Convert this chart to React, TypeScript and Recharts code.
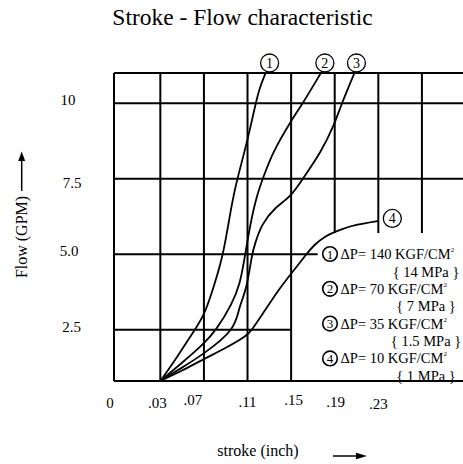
import React from 'react';
import { LineChart, Line, XAxis, YAxis, ReferenceLine } from 'recharts';

// stroke (inch) / flow (GPM), one pair of arrays per ΔP curve
const stroke1 = [0.03, 0.0458, 0.0615, 0.07, 0.0799, 0.0877, 0.0924, 0.0971, 0.1012, 0.1095, 0.1154, 0.1207, 0.1266];
const flow1 = [0.8, 1.61, 2.5, 2.94, 4.01, 5.0, 5.99, 6.94, 7.58, 8.7, 9.65, 10.49, 11.0];

const stroke2 = [0.03, 0.0498, 0.07, 0.0815, 0.0955, 0.1033, 0.1079, 0.1125, 0.1184, 0.1248, 0.133, 0.1501, 0.1607, 0.1773];
const flow2 = [0.8, 1.4, 2.03, 2.5, 3.33, 4.01, 5.0, 5.99, 6.94, 7.58, 8.37, 9.43, 9.99, 11.0];

const stroke3 = [0.03, 0.0498, 0.07, 0.0986, 0.1019, 0.1093, 0.114, 0.1169, 0.1228, 0.1354, 0.1495, 0.1607, 0.1774, 0.19, 0.1964, 0.2081];
const flow3 = [0.8, 1.24, 1.7, 2.5, 3.23, 3.84, 5.0, 5.35, 5.99, 6.56, 6.89, 7.5, 8.37, 9.32, 9.99, 11.0];

const stroke4 = [0.03, 0.0498, 0.07, 0.0902, 0.11, 0.114, 0.1213, 0.1389, 0.1462, 0.1641, 0.1707, 0.1823, 0.19, 0.1964, 0.2096, 0.23];
const flow4 = [0.8, 1.14, 1.53, 1.89, 2.31, 2.5, 2.88, 3.84, 4.18, 5.0, 5.3, 5.62, 5.73, 5.83, 5.98, 6.1];

const curveNames = ['1', '2', '3', '4'];
const pressureKgf = ['140', '70', '35', '10'];
const pressureMpa = ['14', '7', '1.5', '1'];

// the sheet prints "0" one grid cell left of .03, so it sits a bit below true zero
const xTickValues = [-0.0125, 0.03, 0.07, 0.11, 0.15, 0.19, 0.23];
const xTickLabels = ['0', '.03', '.07', '.11', '.15', '.19', '.23'];
const yTickValues = [2.5, 5, 7.5, 10];
const yTickLabels = ['2.5', '5.0', '7.5', '10'];

const X_MIN = -0.0125;
const X_MAX = 0.3077;
const Y_MIN = 0.8;
const Y_MAX = 11;

const toPoints = (xs: number[], ys: number[]) => xs.map((x, i) => ({ stroke: x, flow: ys[i] }));
const curves = [toPoints(stroke1, flow1), toPoints(stroke2, flow2), toPoints(stroke3, flow3), toPoints(stroke4, flow4)];

// where the circled number sits relative to the curve end
const markOffset = [[4, -10], [4, -10], [2, -10], [14, -2.5]];
const xTickNudge = [[-4, 0], [-3, 0], [-11, -3], [0, -1.5], [2.5, -3], [1, -1.5], [0, 1]];
const yTickNudge = [[1.5, -3], [-1, -3], [2, 4], [-2, -3]];

const FONT = '"Liberation Serif", "Times New Roman", serif';

// grid drawn as segments since parts of it are cut away round the key
const gridSegments: [number, number, number, number][] = [
    [X_MIN, Y_MAX, X_MAX, Y_MAX],
    [X_MIN, 10, X_MAX, 10],
    [X_MIN, 7.5, X_MAX, 7.5],
    [X_MIN, 5, 0.1744, 5],
    [X_MIN, 2.5, 0.15, 2.5],
    [X_MIN, Y_MIN, X_MAX, Y_MIN],
    [X_MIN, Y_MIN, X_MIN, Y_MAX],
    [0.03, Y_MIN, 0.03, Y_MAX],
    [0.07, Y_MIN, 0.07, Y_MAX],
    [0.11, Y_MIN, 0.11, Y_MAX],
    [0.15, Y_MIN, 0.15, Y_MAX],
    [0.19, 5.7, 0.19, Y_MAX],
    [0.23, 5.7, 0.23, Y_MAX],
    [0.27, 5.7, 0.27, Y_MAX],
];

const XTick = (props: any) => {
    const { x, y, index } = props;
    const [dx, dy] = xTickNudge[index] || [0, 0];
    return (
        <text x={x + dx} y={y + 19 + dy} textAnchor="middle" fontFamily={FONT} fontSize={15} fill="#000">
            {xTickLabels[index]}
        </text>
    );
};

const YTick = (props: any) => {
    const { y, index } = props;
    const [dx, dy] = yTickNudge[index] || [0, 0];
    return (
        <text x={70 + dx} y={y + 5 + dy} textAnchor="middle" fontFamily={FONT} fontSize={15} fill="#000">
            {yTickLabels[index]}
        </text>
    );
};

const endMark = (series: number) => (props: any) => {
    const { cx, cy, index } = props;
    if (index !== curves[series].length - 1) return <g key={`d${series}-${index}`} />;
    const [ox, oy] = markOffset[series];
    return (
        <g key={`d${series}-${index}`}>
            <circle cx={cx + ox} cy={cy + oy} r={9} fill="#fff" stroke="#000" strokeWidth={1.3} />
            <text x={cx + ox} y={cy + oy + 5} textAnchor="middle" fontFamily={FONT} fontSize={14} fill="#000">
                {curveNames[series]}
            </text>
        </g>
    );
};

const App: React.FC = () => {
    return (
        <div style={{ position: 'absolute', left: 0, top: 0, width: 463, height: 464, background: '#fff' }}>
            <LineChart width={463} height={464} margin={{ top: 73, right: 0, bottom: 0, left: 0 }}>
                <XAxis
                    type="number"
                    dataKey="stroke"
                    domain={[X_MIN, X_MAX]}
                    ticks={xTickValues}
                    height={83}
                    axisLine={false}
                    tickLine={false}
                    tick={<XTick />}
                    interval={0}
                />
                <YAxis
                    type="number"
                    dataKey="flow"
                    domain={[Y_MIN, Y_MAX]}
                    ticks={yTickValues}
                    width={114}
                    axisLine={false}
                    tickLine={false}
                    tick={<YTick />}
                    interval={0}
                />
                {gridSegments.map(([x1, y1, x2, y2], i) => (
                    <ReferenceLine
                        key={`g${i}`}
                        segment={[{ x: x1, y: y1 }, { x: x2, y: y2 }]}
                        stroke="#000"
                        strokeWidth={2}
                        ifOverflow="visible"
                    />
                ))}
                {curves.map((pts, i) => (
                    <Line
                        key={`c${i}`}
                        data={pts}
                        dataKey="flow"
                        type="basis"
                        stroke="#000"
                        strokeWidth={1.8}
                        dot={endMark(i)}
                        activeDot={false}
                        isAnimationActive={false}
                    />
                ))}
            </LineChart>
            <svg width={463} height={464} style={{ position: 'absolute', left: 0, top: 0, pointerEvents: 'none' }}>
                <text x={242.5} y={25} textAnchor="middle" fontFamily={FONT} fontSize={23.5} fill="#000">
                    Stroke - Flow characteristic
                </text>
                <text
                    x={21.7}
                    y={237}
                    transform="rotate(-90 21.7 237)"
                    textAnchor="middle"
                    dominantBaseline="central"
                    fontFamily={FONT}
                    fontSize={16}
                    fill="#000"
                >
                    Flow (GPM)
                </text>
                <line x1={21.7} y1={191} x2={21.7} y2={159} stroke="#000" strokeWidth={1.5} />
                <polygon points="21.7,151.5 18.2,161 25.2,161" fill="#000" />
                <text x={258} y={456} textAnchor="middle" fontFamily={FONT} fontSize={16} fill="#000">
                    stroke (inch)
                </text>
                <line x1={333} y1={456} x2={358} y2={456} stroke="#000" strokeWidth={1.5} />
                <polygon points="367,456 356,452.8 356,459.2" fill="#000" />
                {pressureKgf.map((p, i) => {
                    const cy = 254 + i * 34.8;
                    return (
                        <g key={`k${i}`}>
                            <circle cx={330} cy={cy} r={7.3} fill="#fff" stroke="#000" strokeWidth={1.6} />
                            <text x={330} y={cy + 4.5} textAnchor="middle" fontFamily={FONT} fontSize={13} fill="#000">
                                {curveNames[i]}
                            </text>
                            <text x={340.5} y={cy + 5} fontFamily={FONT} fontSize={14.5} fill="#000">
                                {`ΔP= ${p} KGF/CM`}
                                <tspan fontSize={7} dy={-7}>2</tspan>
                            </text>
                            <text x={426} y={cy + 22.5} textAnchor="middle" fontFamily={FONT} fontSize={14.5} fill="#000">
                                {`{ ${pressureMpa[i]} MPa }`}
                            </text>
                        </g>
                    );
                })}
            </svg>
        </div>
    );
};

export default App;
